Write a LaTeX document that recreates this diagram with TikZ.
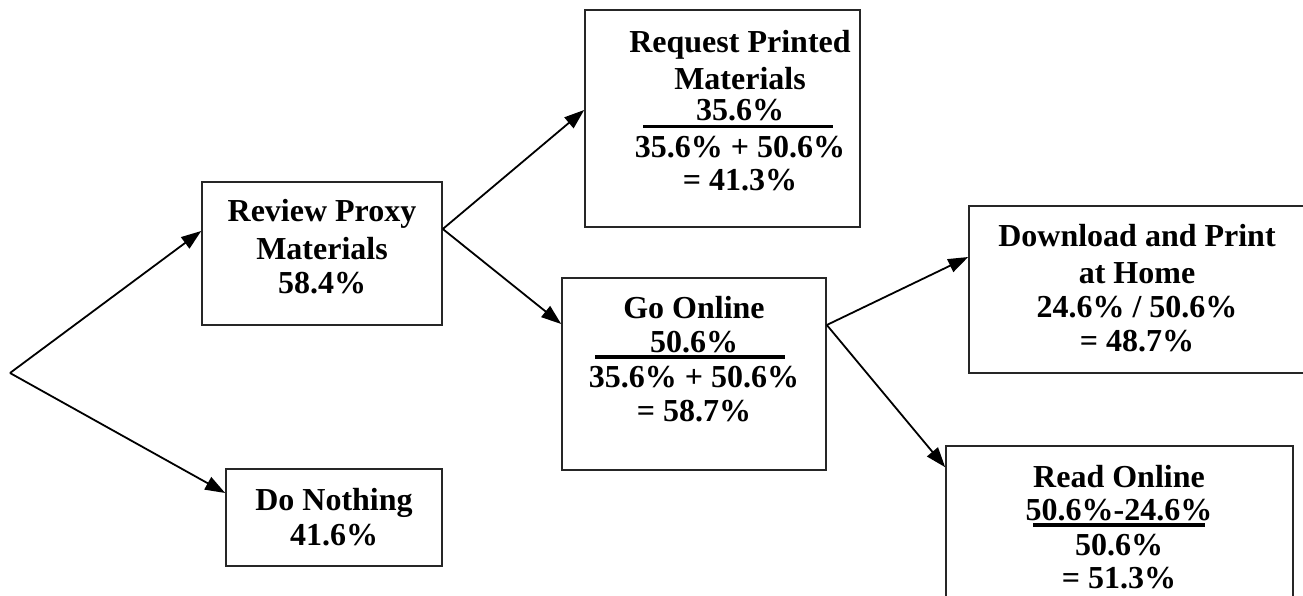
\documentclass[tikz,border=0pt]{standalone}
\usepackage{fontspec}
\setmainfont{Liberation Serif}
\usetikzlibrary{arrows.meta}
\begin{document}
\begin{tikzpicture}[x=1pt,y=-1pt,
  box/.style={draw=black!85, line width=1.6pt, rectangle, inner sep=0pt},
  lbl/.style={font=\bfseries\fontsize{32}{36}\selectfont, anchor=base, inner sep=0pt},
  link/.style={line width=1.8pt, -{Triangle[length=20pt,width=14pt]}},
  bar/.style={line width=3.5pt}]
\useasboundingbox (0,0) rectangle (1303,596);
\clip (0,0) rectangle (1303,596);

% boxes
\node[box, minimum width=240pt, minimum height=143pt] (review) at (322,253.5) {};
\node[box, minimum width=216pt, minimum height=97pt] (nothing) at (334,517.5) {};
\node[box, minimum width=275pt, minimum height=217pt] (request) at (722.5,118.5) {};
\node[box, minimum width=264pt, minimum height=192pt] (online) at (694,374) {};
\node[box, minimum width=351pt, minimum height=167pt] (download) at (1144.5,289.5) {};
\node[box, minimum width=347pt, minimum height=174pt] (readon) at (1119.5,533) {};

% labels
\node[lbl] (rv1) at (322,222) {Review Proxy};
\node[lbl] (rv2) at (322,259) {Materials};
\node[lbl] (rv3) at (322,293) {58.4\%};

\node[lbl] (dn1) at (334,510) {Do Nothing};
\node[lbl] (dn2) at (334,545) {41.6\%};

\node[lbl] (rq1) at (740,53) {Request Printed};
\node[lbl] (rq2) at (740,90) {Materials};
\node[lbl] (rq3) at (740,121) {35.6\%};
\node[lbl] (rq4) at (740,158) {35.6\% + 50.6\%};
\node[lbl] (rq5) at (740,190) {= 41.3\%};
\draw[bar] (643,126.5) -- (833,126.5);

\node[lbl] (go1) at (694,318) {Go Online};
\node[lbl] (go2) at (694,352) {50.6\%};
\node[lbl] (go3) at (694,387) {35.6\% + 50.6\%};
\node[lbl] (go4) at (694,421) {= 58.7\%};
\draw[bar] (595,357) -- (785,357);

\node[lbl] (dl1) at (1137,246) {Download and Print};
\node[lbl] (dl2) at (1137,283) {at Home};
\node[lbl] (dl3) at (1137,317) {24.6\% / 50.6\%};
\node[lbl] (dl4) at (1137,351) {= 48.7\%};

\node[lbl] (ro1) at (1119,487) {Read Online};
\node[lbl] (ro2) at (1119,520) {50.6\%-24.6\%};
\node[lbl] (ro3) at (1119,555) {50.6\%};
\node[lbl] (ro4) at (1119,588) {= 51.3\%};
\draw[bar] (1033,525) -- (1205,525);

% connectors
\coordinate (root) at (10,373);
\coordinate (fork1) at ([yshift=24.5pt]review.east);
\coordinate (fork2) at ([yshift=49pt]online.east);

\draw[link] (root) -- ([yshift=22.5pt]review.west);
\draw[link] (root) -- ([yshift=24.5pt]nothing.west);
\draw[link] (fork1) -- ([yshift=8.5pt]request.west);
\draw[link] (fork1) -- ([yshift=50pt]online.west);
\draw[link] (fork2) -- ([yshift=32.5pt]download.west);
\draw[link] (fork2) -- ([yshift=-22pt]readon.north west);
\end{tikzpicture}
\end{document}
